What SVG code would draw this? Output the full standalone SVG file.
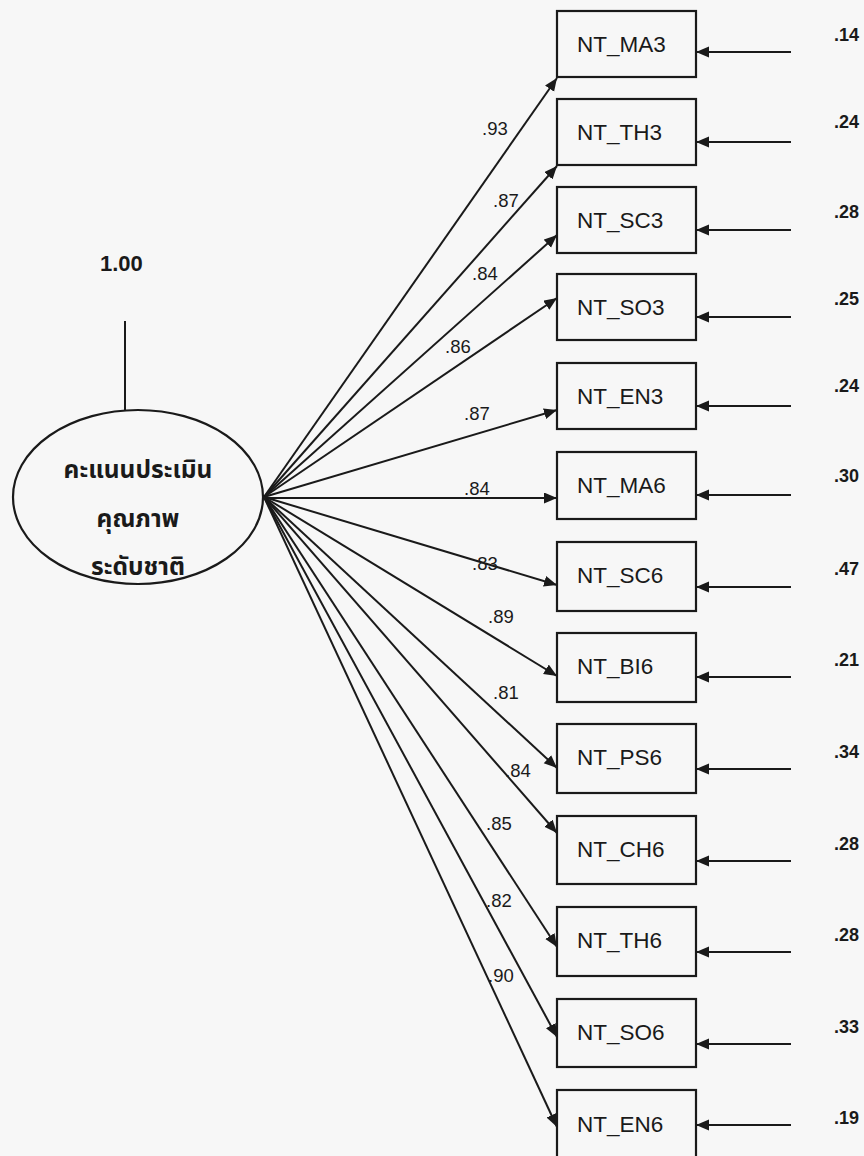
<svg xmlns="http://www.w3.org/2000/svg" width="864" height="1156" viewBox="0 0 864 1156">
  <style>
    .box { fill: none; stroke: #1a1a1a; stroke-width: 2.2; }
    .lat { fill: none; stroke: #1a1a1a; stroke-width: 2.2; }
    .edge { fill: none; stroke: #1a1a1a; stroke-width: 2; marker-end: url(#arrow); }
    .line { fill: none; stroke: #1a1a1a; stroke-width: 2; }
    .name { font-family: "Liberation Sans", Arial, sans-serif; font-size: 22.5px; fill: #1a1a1a; }
    .load { font-family: "Liberation Sans", Arial, sans-serif; font-size: 18.5px; fill: #1a1a1a; }
    .err { font-family: "Liberation Sans", Arial, sans-serif; font-size: 18px; font-weight: bold; fill: #1a1a1a; }
    .thai { font-family: "Noto Sans Thai", "Noto Sans", "DejaVu Sans", sans-serif; font-size: 24.5px; font-weight: bold; fill: #1a1a1a; text-anchor: middle; }
  </style>
  <defs>
    <marker id="arrow" markerUnits="userSpaceOnUse" markerWidth="14" markerHeight="12" refX="13" refY="5.5" orient="auto">
      <path d="M0,0 L13,5.5 L0,11 z" fill="#1a1a1a"/>
    </marker>
  </defs>
  <rect width="864" height="1156" fill="#f7f7f7"/>

  <!-- latent factor -->
  <g id="latent">
    <line class="line" x1="125" y1="321" x2="125" y2="410"/>
    <text x="100" y="271" class="err" style="font-size:22px">1.00</text>
    <ellipse class="lat" cx="138" cy="497" rx="125" ry="87"/>
    <text x="138" y="478" class="thai">คะแนนประเมิน</text>
    <text x="138" y="527" class="thai">คุณภาพ</text>
    <text x="138" y="575" class="thai">ระดับชาติ</text>
  </g>

  <!-- observed indicators -->
  <g id="NT_MA3"><rect class="box" x="557" y="11" width="139" height="66"/><text class="name" x="577" y="52">NT_MA3</text></g>
  <g id="NT_TH3"><rect class="box" x="557" y="99" width="139" height="66"/><text class="name" x="577" y="140">NT_TH3</text></g>
  <g id="NT_SC3"><rect class="box" x="557" y="187" width="139" height="66"/><text class="name" x="577" y="228">NT_SC3</text></g>
  <g id="NT_SO3"><rect class="box" x="557" y="274" width="139" height="66"/><text class="name" x="577" y="315">NT_SO3</text></g>
  <g id="NT_EN3"><rect class="box" x="557" y="363" width="139" height="66"/><text class="name" x="577" y="404">NT_EN3</text></g>
  <g id="NT_MA6"><rect class="box" x="557" y="452" width="139" height="67"/><text class="name" x="577" y="493">NT_MA6</text></g>
  <g id="NT_SC6"><rect class="box" x="557" y="542" width="139" height="69"/><text class="name" x="577" y="583">NT_SC6</text></g>
  <g id="NT_BI6"><rect class="box" x="557" y="633" width="139" height="69"/><text class="name" x="577" y="674">NT_BI6</text></g>
  <g id="NT_PS6"><rect class="box" x="557" y="724" width="139" height="69"/><text class="name" x="577" y="765">NT_PS6</text></g>
  <g id="NT_CH6"><rect class="box" x="557" y="816" width="139" height="68"/><text class="name" x="577" y="857">NT_CH6</text></g>
  <g id="NT_TH6"><rect class="box" x="557" y="907" width="139" height="69"/><text class="name" x="577" y="948">NT_TH6</text></g>
  <g id="NT_SO6"><rect class="box" x="557" y="999" width="139" height="68"/><text class="name" x="577" y="1040">NT_SO6</text></g>
  <g id="NT_EN6"><rect class="box" x="557" y="1090" width="139" height="69"/><text class="name" x="577" y="1132">NT_EN6</text></g>

  <!-- loadings and error terms -->
  <g id="connectors">
    <line class="edge" x1="264" y1="497" x2="557" y2="78"/>
    <line class="edge" x1="264" y1="497" x2="557" y2="166"/>
    <line class="edge" x1="264" y1="497" x2="557" y2="235"/>
    <line class="edge" x1="264" y1="497" x2="557" y2="298"/>
    <line class="edge" x1="264" y1="497" x2="557" y2="410"/>
    <line class="edge" x1="264" y1="498" x2="557" y2="498"/>
    <line class="edge" x1="264" y1="497" x2="557" y2="585"/>
    <line class="edge" x1="264" y1="497" x2="557" y2="676"/>
    <line class="edge" x1="264" y1="497" x2="557" y2="768"/>
    <line class="edge" x1="264" y1="497" x2="557" y2="833"/>
    <line class="edge" x1="264" y1="497" x2="557" y2="947"/>
    <line class="edge" x1="264" y1="497" x2="557" y2="1037"/>
    <line class="edge" x1="264" y1="497" x2="557" y2="1127"/>

    <line class="edge" x1="791" y1="52" x2="696" y2="52"/>
    <line class="edge" x1="791" y1="142" x2="696" y2="142"/>
    <line class="edge" x1="791" y1="230" x2="696" y2="230"/>
    <line class="edge" x1="791" y1="317" x2="696" y2="317"/>
    <line class="edge" x1="791" y1="406" x2="696" y2="406"/>
    <line class="edge" x1="791" y1="495" x2="696" y2="495"/>
    <line class="edge" x1="791" y1="587" x2="696" y2="587"/>
    <line class="edge" x1="791" y1="677" x2="696" y2="677"/>
    <line class="edge" x1="791" y1="769" x2="696" y2="769"/>
    <line class="edge" x1="791" y1="861" x2="696" y2="861"/>
    <line class="edge" x1="791" y1="952" x2="696" y2="952"/>
    <line class="edge" x1="791" y1="1044" x2="696" y2="1044"/>
    <line class="edge" x1="791" y1="1125" x2="696" y2="1125"/>
  </g>

  <g id="loading-labels">
    <text class="load" x="482" y="135">.93</text>
    <text class="load" x="493" y="207">.87</text>
    <text class="load" x="472" y="280">.84</text>
    <text class="load" x="445" y="353">.86</text>
    <text class="load" x="464" y="420">.87</text>
    <text class="load" x="464" y="495">.84</text>
    <text class="load" x="472" y="570">.83</text>
    <text class="load" x="488" y="623">.89</text>
    <text class="load" x="493" y="699">.81</text>
    <text class="load" x="505" y="777">.84</text>
    <text class="load" x="486" y="830">.85</text>
    <text class="load" x="486" y="907">.82</text>
    <text class="load" x="488" y="982">.90</text>
  </g>

  <g id="error-labels">
    <text class="err" x="834" y="41">.14</text>
    <text class="err" x="834" y="128">.24</text>
    <text class="err" x="834" y="218">.28</text>
    <text class="err" x="834" y="305">.25</text>
    <text class="err" x="834" y="392">.24</text>
    <text class="err" x="834" y="482">.30</text>
    <text class="err" x="834" y="575">.47</text>
    <text class="err" x="834" y="666">.21</text>
    <text class="err" x="834" y="758">.34</text>
    <text class="err" x="834" y="850">.28</text>
    <text class="err" x="834" y="941">.28</text>
    <text class="err" x="834" y="1033">.33</text>
    <text class="err" x="834" y="1124">.19</text>
  </g>
</svg>
